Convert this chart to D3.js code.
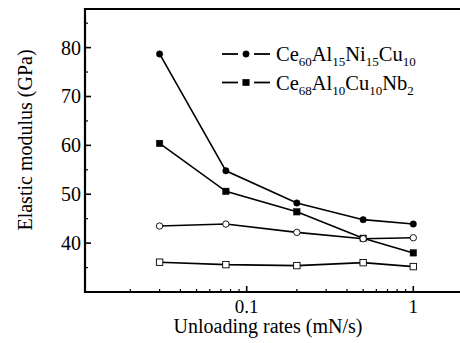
<!DOCTYPE html>
<html>
<head>
<meta charset="utf-8">
<script src="https://cdn.jsdelivr.net/npm/d3@7"></script>
<style>
  body { margin: 0; background: #fff; }
  svg text { font-family: "Liberation Serif", "Times New Roman", serif; fill: #000; }
</style>
</head>
<body>
<div id="chart"></div>
<script>
var width = 460, height = 343;
var margin = { top: 9, bottom: 51, left: 85 };

// data
var rates = [0.03, 0.075, 0.2, 0.5, 1];
var ceNiFilled  = [78.7, 54.8, 48.2, 44.8, 43.9];
var ceNbFilled  = [60.4, 50.6, 46.4, 41.0, 38.0];
var ceNiOpen    = [43.5, 43.9, 42.2, 40.9, 41.1];
var ceNbOpen    = [36.1, 35.6, 35.4, 36.0, 35.2];
var yTicks = [40, 50, 60, 70, 80];
var xTickLabels = [0.1, 1];

var series = [
    { values: ceNiFilled, shape: "circle", fill: "#000" },
    { values: ceNbFilled, shape: "square", fill: "#000" },
    { values: ceNiOpen,   shape: "circle", fill: "#fff" },
    { values: ceNbOpen,   shape: "square", fill: "#fff" }
];

var iw = width - margin.left + 10,   // frame runs past the right edge
    ih = height - margin.top - margin.bottom;

var x = d3.scaleLog().domain([0.0107, 1]).range([0, 328.3]);
var y = d3.scaleLinear().domain([30, 87.9]).range([ih, 0]);

var svg = d3.select("#chart").append("svg")
    .attr("width", width)
    .attr("height", height);

var plot = svg.append("g")
    .attr("transform", "translate(" + margin.left + "," + margin.top + ")");

// minor + major ticks on x (inside)
var xMinor = [];
[0.01, 0.1, 1].forEach(function(dec) {
    for (var k = 2; k <= 9; k++) {
        var v = dec * k;
        if (x(v) > 0 && x(v) < width - margin.left) xMinor.push(v);
    }
});

plot.append("g").selectAll("line")
    .data(xMinor)
    .enter().append("line")
    .attr("x1", function(d) { return x(d); })
    .attr("x2", function(d) { return x(d); })
    .attr("y1", ih).attr("y2", ih - 3)
    .attr("stroke", "#000").attr("stroke-width", 1.2);

plot.append("g").selectAll("line")
    .data(xTickLabels)
    .enter().append("line")
    .attr("x1", function(d) { return x(d); })
    .attr("x2", function(d) { return x(d); })
    .attr("y1", ih).attr("y2", ih - 6)
    .attr("stroke", "#000").attr("stroke-width", 1.6);

plot.append("g").selectAll("text")
    .data(xTickLabels)
    .enter().append("text")
    .attr("x", function(d) { return x(d); })
    .attr("y", ih + 21)
    .attr("text-anchor", "middle")
    .style("font-size", "19px")
    .text(function(d) { return d; });

// y ticks
var yMinor = d3.range(35, 90, 10);
plot.append("g").selectAll("line")
    .data(yMinor)
    .enter().append("line")
    .attr("x1", 0).attr("x2", 3)
    .attr("y1", function(d) { return y(d); })
    .attr("y2", function(d) { return y(d); })
    .attr("stroke", "#000").attr("stroke-width", 1.2);

plot.append("g").selectAll("line")
    .data(yTicks)
    .enter().append("line")
    .attr("x1", 0).attr("x2", 6)
    .attr("y1", function(d) { return y(d); })
    .attr("y2", function(d) { return y(d); })
    .attr("stroke", "#000").attr("stroke-width", 1.6);

plot.append("g").selectAll("text")
    .data(yTicks)
    .enter().append("text")
    .attr("x", -4)
    .attr("y", function(d) { return y(d) + 7; })
    .attr("text-anchor", "end")
    .style("font-size", "20px")
    .text(function(d) { return d; });

// frame: left, bottom, top
plot.append("path")
    .attr("d", "M" + iw + ",0H0V" + ih + "H" + iw)
    .attr("fill", "none")
    .attr("stroke", "#000")
    .attr("stroke-width", 2.2);

// lines + markers
var line = d3.line()
    .x(function(d, i) { return x(rates[i]); })
    .y(function(d) { return y(d); });

function marker(sel, shape, fill) {
    if (shape === "circle") {
        sel.append("circle").attr("r", 3.2);
    } else {
        sel.append("rect").attr("x", -3.2).attr("y", -3.2)
            .attr("width", 6.4).attr("height", 6.4);
    }
    sel.selectAll("circle,rect")
        .attr("fill", fill)
        .attr("stroke", "#000")
        .attr("stroke-width", fill === "#000" ? 0.5 : 0.9);
}

series.forEach(function(s) {
    plot.append("path")
        .datum(s.values)
        .attr("d", line)
        .attr("fill", "none")
        .attr("stroke", "#000")
        .attr("stroke-width", 1.6);
});

series.forEach(function(s) {
    var g = plot.append("g").selectAll("g")
        .data(s.values)
        .enter().append("g")
        .attr("transform", function(d, i) {
            return "translate(" + x(rates[i]) + "," + y(d) + ")";
        });
    marker(g, s.shape, s.fill);
});

// legend
var legendNames = [
    [["Ce", 0], ["60", 1], ["Al", 0], ["15", 1], ["Ni", 0], ["15", 1], ["Cu", 0], ["10", 1]],
    [["Ce", 0], ["68", 1], ["Al", 0], ["10", 1], ["Cu", 0], ["10", 1], ["Nb", 0], ["2", 1]]
];
var legendShapes = ["circle", "square"];

legendNames.forEach(function(parts, i) {
    var ly = 54 + i * 28.5;
    var g = svg.append("g");
    [[222, 238], [254, 270]].forEach(function(seg) {
        g.append("line")
            .attr("x1", seg[0]).attr("x2", seg[1])
            .attr("y1", ly).attr("y2", ly)
            .attr("stroke", "#000").attr("stroke-width", 1.8);
    });
    var m = g.append("g").attr("transform", "translate(246," + ly + ")");
    marker(m, legendShapes[i], "#000");
    var t = g.append("text")
        .attr("x", 276)
        .attr("y", ly + 7);
    var prevSub = false;
    parts.forEach(function(p) {
        var sub = p[1] === 1;
        t.append("tspan")
            .attr("dy", sub ? 5 : (prevSub ? -5 : 0))
            .style("font-size", sub ? "13px" : "20.5px")
            .text(p[0]);
        prevSub = sub;
    });
});

// axis titles
svg.append("text")
    .attr("x", 268)
    .attr("y", 333)
    .attr("text-anchor", "middle")
    .style("font-size", "20px")
    .text("Unloading rates (mN/s)");

svg.append("text")
    .attr("transform", "translate(32,140) rotate(-90)")
    .attr("text-anchor", "middle")
    .style("font-size", "20px")
    .text("Elastic modulus (GPa)");
</script>
</body>
</html>
